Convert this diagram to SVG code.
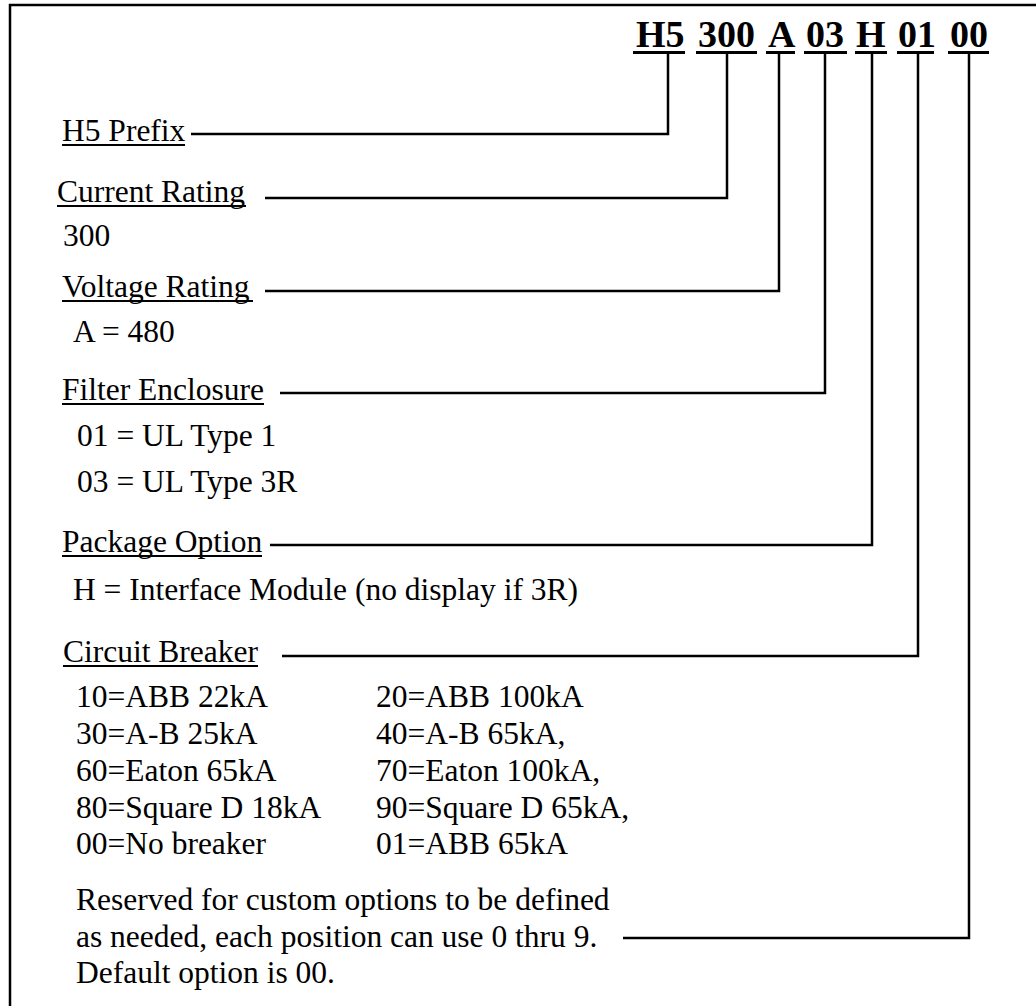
<svg xmlns="http://www.w3.org/2000/svg" width="1036" height="1006" viewBox="0 0 1036 1006">
<style>
text{font-family:"Liberation Serif","Times New Roman",serif;fill:#000}
.code{font-size:38px;font-weight:bold}
.t{font-size:31.5px}
.ul{stroke:#000;stroke-width:2;fill:none}
.cul{stroke:#000;stroke-width:3;fill:none}
.c{fill:none;stroke:#000;stroke-width:2.5}
.frame{stroke:#000;stroke-width:2.5;fill:none}
</style>
<rect width="1036" height="1006" fill="#fff"/>
<path class="frame" d="M10,1006 V5 H1036"/>

<g id="code">
<text class="code" x="636" y="47">H5</text>
<text class="code" x="698" y="47">300</text>
<text class="code" x="768" y="47">A</text>
<text class="code" x="806" y="47">03</text>
<text class="code" x="856" y="47">H</text>
<text class="code" x="898" y="47">01</text>
<text class="code" x="950" y="47">00</text>
<path class="cul" d="M633,52.5H685 M696,52.5H757 M766,52.5H795 M804,52.5H847 M855,52.5H887 M897,52.5H934 M948,52.5H989"/>
</g>

<g id="prefix">
<text class="t" x="62" y="141">H5 Prefix</text>
<path class="ul" d="M62,145H185"/>
</g>

<g id="current">
<text class="t" x="57" y="202">Current Rating</text>
<path class="ul" d="M57,206H246"/>
<text class="t" x="63" y="246">300</text>
</g>

<g id="voltage">
<text class="t" x="62" y="297">Voltage Rating</text>
<path class="ul" d="M62,301H253"/>
<text class="t" x="73" y="342">A = 480</text>
</g>

<g id="enclosure">
<text class="t" x="62" y="400">Filter Enclosure</text>
<path class="ul" d="M62,404H264"/>
<text class="t" x="77" y="446">01 = UL Type 1</text>
<text class="t" x="77" y="492">03 = UL Type 3R</text>
</g>

<g id="package">
<text class="t" x="62" y="552">Package Option</text>
<path class="ul" d="M62,556H262"/>
<text class="t" x="73" y="600">H = Interface Module (no display if 3R)</text>
</g>

<g id="breaker">
<text class="t" x="63" y="662">Circuit Breaker</text>
<path class="ul" d="M63,666H258"/>
<text class="t" x="76" y="707">10=ABB 22kA</text>
<text class="t" x="76" y="744">30=A-B 25kA</text>
<text class="t" x="76" y="781">60=Eaton 65kA</text>
<text class="t" x="76" y="818">80=Square D 18kA</text>
<text class="t" x="76" y="854">00=No breaker</text>
<text class="t" x="376" y="707">20=ABB 100kA</text>
<text class="t" x="376" y="744">40=A-B 65kA,</text>
<text class="t" x="376" y="781">70=Eaton 100kA,</text>
<text class="t" x="376" y="818">90=Square D 65kA,</text>
<text class="t" x="376" y="854">01=ABB 65kA</text>
</g>

<g id="custom">
<text class="t" x="76" y="910">Reserved for custom options to be defined</text>
<text class="t" x="76" y="947">as needed, each position can use 0 thru 9.</text>
<text class="t" x="76" y="983">Default option is 00.</text>
</g>

<g id="connectors">
<path class="c" d="M191,134H668V53"/>
<path class="c" d="M265,198H727V53"/>
<path class="c" d="M265,291H779V53"/>
<path class="c" d="M280,393H825V53"/>
<path class="c" d="M270,545H872V53"/>
<path class="c" d="M282,656H918V53"/>
<path class="c" d="M623,938H969V53"/>
</g>
</svg>
